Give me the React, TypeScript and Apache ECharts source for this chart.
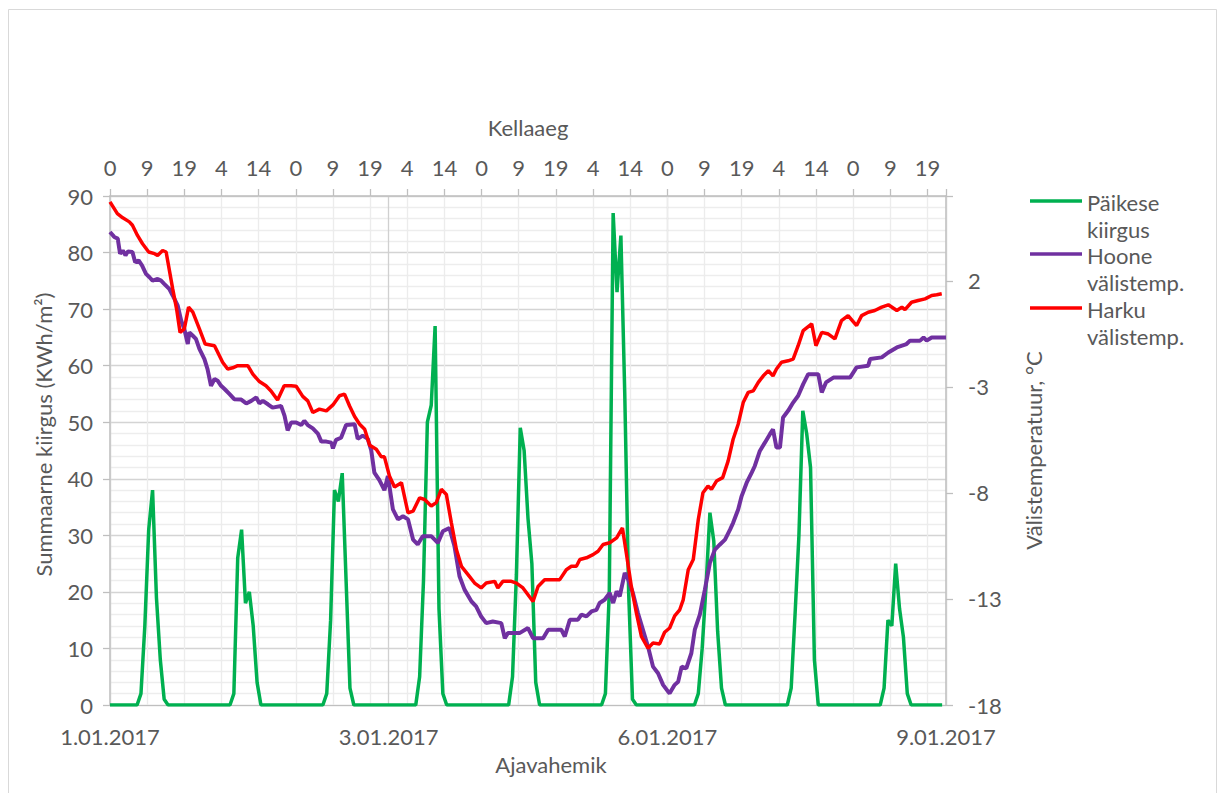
import React, { useEffect, useRef } from 'react';
import * as echarts from 'echarts';

// Top axis (Kellaaeg) tick labels, one every 9.6 hours
const topHourLabels = ['0','9','19','4','14','0','9','19','4','14','0','9','19','4','14','0','9','19','4','14','0','9','19'];
// Bottom axis (Ajavahemik) labels, one every 72 hours
const dateLabels = ['1.01.2017', '3.01.2017', '6.01.2017', '9.01.2017'];

// Päikese kiirgus, hourly values (KWh/m²)
const radiation = [
  0,0,0,0,0,0,0,0,2,14,31,38,19,8,1,0,0,0,0,0,0,0,0,0,
  0,0,0,0,0,0,0,0,2,26,31,18,20,14,4,0,0,0,0,0,0,0,0,0,
  0,0,0,0,0,0,0,0,2,15,38,36,41,22,3,0,0,0,0,0,0,0,0,0,
  0,0,0,0,0,0,0,0,5,22,50,53,67,17,2,0,0,0,0,0,0,0,0,0,
  0,0,0,0,0,0,0,0,5,23,49,45,33,25,4,0,0,0,0,0,0,0,0,0,
  0,0,0,0,0,0,0,0,2,20,87,73,83,55,20,1,0,0,0,0,0,0,0,0,
  0,0,0,0,0,0,0,0,2,10,21,34,29,13,3,0,0,0,0,0,0,0,0,0,
  0,0,0,0,0,0,0,0,3,16,30,52,48,42,8,0,0,0,0,0,0,0,0,0,
  0,0,0,0,0,0,0,0,3,15,14,25,17,12,2,0,0,0,0,0,0,0,0,0,
];

// Hoone välistemp. (°C) at the given hours
const hooneHours = [0,1.1,2.0,2.6,3.3,4.0,4.6,5.8,6.5,7.4,8.3,9.3,10.2,11.0,12.3,13.2,14.0,15.3,16.2,17.5,18.4,19.2,20.1,20.5,21.4,22.2,23.1,24.4,25.2,26.1,27.0,27.8,28.7,29.6,30.9,32.1,33.9,35.2,36.5,37.8,38.6,39.5,40.8,42.0,44.2,45.1,45.9,46.8,48.1,49.4,50.2,51.1,52.4,53.7,54.6,55.9,57.2,57.6,58.4,59.7,61.0,63.2,64.0,65.3,66.6,67.5,68.3,69.6,70.9,71.8,73.1,74.4,75.7,77.0,78.3,79.5,80.8,83.0,84.7,86.0,87.7,89.0,90.3,91.6,93.4,94.6,95.9,97.2,98.9,101.1,102.0,102.8,105.8,108.0,109.3,111.9,113.2,116.6,117.5,118.8,120.9,121.8,123.1,124.4,125.7,126.5,127.8,129.1,130.0,130.9,131.7,133.0,133.9,135.1,136.4,137.7,139.0,140.3,141.6,142.9,144.2,144.6,145.9,146.8,147.7,148.9,150.2,151.1,152.4,153.7,155.0,156.3,157.6,158.9,160.2,161.0,162.3,163.2,164.5,165.8,166.6,167.9,169.2,170.5,171.3,172.2,173.1,173.9,175.2,176.5,177.8,179.1,180.4,183.0,183.9,185.0,186.9,191.2,192.9,195.9,196.4,199.4,201.1,203.3,205.8,206.7,209.3,210.2,211.0,212.3,216];
const hooneTemps = [4.3,4.07,3.99,3.28,3.43,3.2,3.38,3.36,2.88,2.96,2.72,2.33,2.17,2.01,2.09,2.01,1.86,1.62,1.31,0.83,0.12,-0.27,-0.98,-0.43,-0.59,-0.74,-1.21,-1.69,-2.16,-2.95,-2.63,-2.71,-2.95,-3.1,-3.34,-3.58,-3.6,-3.78,-3.66,-3.5,-3.78,-3.66,-3.82,-3.98,-3.9,-4.37,-5.05,-4.68,-4.68,-4.8,-4.6,-4.8,-4.96,-5.2,-5.58,-5.58,-5.63,-5.9,-5.5,-5.4,-4.8,-4.76,-5.45,-5.3,-5.45,-6.0,-7.04,-7.4,-7.87,-7.2,-8.78,-9.25,-9.1,-9.25,-10.2,-10.43,-10.04,-10.04,-10.36,-9.81,-9.65,-10.51,-11.93,-12.56,-13.12,-13.35,-13.83,-14.14,-14.06,-14.14,-14.85,-14.61,-14.61,-14.37,-14.85,-14.85,-14.45,-14.45,-14.77,-13.98,-13.98,-13.74,-13.82,-13.59,-13.51,-13.19,-13.04,-12.72,-13.19,-12.64,-12.88,-11.77,-12.09,-12.72,-13.66,-14.45,-15.24,-16.19,-16.5,-17.05,-17.37,-17.45,-17.05,-16.9,-16.19,-16.27,-15.56,-14.45,-13.74,-12.56,-11.3,-10.67,-10.43,-10.2,-9.73,-9.41,-8.78,-8.15,-7.52,-7.04,-6.73,-6.02,-5.63,-5.23,-5.0,-5.86,-5.86,-4.44,-4.13,-3.74,-3.42,-2.87,-2.4,-2.4,-3.26,-2.79,-2.56,-2.56,-2.08,-2.0,-1.69,-1.61,-1.38,-1.14,-0.98,-0.82,-0.82,-0.67,-0.82,-0.67,-0.67];

// Harku välistemp. (°C) at the given hours
const harkuHours = [0,1.9,3.3,5.0,5.8,7.1,8.4,10.0,11.5,12.3,13.6,14.5,16.2,17.2,18.1,19.2,20.3,21.4,23.1,24.6,27.0,29.1,30.4,31.7,33.0,35.6,36.9,38.6,40.3,41.6,43.3,45.0,46.8,48.1,49.8,51.1,52.4,54.1,55.9,57.6,59.3,60.6,61.9,63.2,64.5,65.8,67.1,68.8,70.1,70.9,72.2,73.5,75.3,77.0,78.3,80.0,81.3,83.0,84.3,85.6,86.9,88.2,89.5,90.8,92.5,94.2,95.9,97.2,99.4,100.2,101.5,103.7,105.0,106.7,108.0,109.3,110.6,112.3,116.2,117.9,119.2,120.5,121.4,123.1,124.8,126.1,127.4,129.1,130.9,132.4,133.4,134.7,136.0,137.3,139.0,140.3,142.0,143.3,144.6,145.9,147.2,148.1,149.4,150.7,152.0,153.2,154.5,155.4,156.7,158.3,159.7,161.0,162.3,163.6,164.9,166.2,167.5,168.8,170.1,171.3,172.2,173.5,175.2,176.5,177.8,179.1,181.3,182.4,183.9,185.6,187.3,189.0,190.7,192.9,194.2,195.9,197.6,199.4,201.1,203.3,204.6,205.4,207.1,208.8,210.6,212.3,213.6,214.9];
const harkuTemps = [5.72,5.17,4.97,4.78,4.62,4.14,3.75,3.36,3.28,3.2,3.43,3.36,1.62,0.68,-0.43,-0.27,0.76,0.52,-0.27,-0.98,-1.06,-1.84,-2.16,-2.1,-2.0,-2.0,-2.4,-2.75,-2.95,-3.19,-3.62,-2.95,-2.95,-2.97,-3.45,-3.66,-4.21,-4.05,-4.13,-3.85,-3.42,-3.34,-3.9,-4.4,-4.76,-5.0,-5.75,-5.94,-6.3,-6.3,-7.2,-7.72,-7.52,-8.94,-8.86,-8.23,-8.31,-8.62,-8.46,-7.83,-8.07,-9.41,-10.67,-11.46,-11.85,-12.25,-12.48,-12.25,-12.17,-12.48,-12.17,-12.17,-12.25,-12.48,-12.8,-13.12,-12.41,-12.09,-12.09,-11.62,-11.46,-11.46,-11.14,-11.06,-10.91,-10.75,-10.43,-10.35,-10.12,-9.65,-10.83,-12.41,-13.66,-14.77,-15.32,-15.08,-15.12,-14.57,-14.37,-13.8,-13.51,-13.04,-11.62,-11.14,-9.25,-7.99,-7.68,-7.83,-7.44,-7.28,-6.5,-5.47,-4.76,-3.74,-3.26,-3.19,-2.79,-2.48,-2.24,-2.48,-2.16,-1.84,-1.77,-1.69,-1.06,-0.35,-0.03,-1.06,-0.43,-0.51,-0.74,0.12,0.36,-0.11,0.36,0.52,0.6,0.76,0.87,0.6,0.76,0.64,0.99,1.07,1.15,1.31,1.34,1.39];

const seriesNames = ['Päikese kiirgus', 'Hoone välistemp.', 'Harku välistemp.'];
const legendLines = [['Päikese', 'kiirgus'], ['Hoone', 'välistemp.'], ['Harku', 'välistemp.']];
const seriesColors = ['#00b050', '#7030a0', '#ff0000'];

const FONT = 'Lato, "Open Sans", sans-serif';
const TXT = '#595959';
const AXIS = '#bfbfbf';

export default function App() {
  const ref = useRef<HTMLDivElement>(null);

  useEffect(() => {
    if (!ref.current) return;
    const chart = echarts.init(ref.current, undefined, { renderer: 'svg' });

    const legendGraphics: any[] = [];
    const legendLineY = [201, 254, 308];
    legendLines.forEach((lines, i) => {
      legendGraphics.push({
        type: 'line',
        shape: { x1: 1030, y1: legendLineY[i], x2: 1082, y2: legendLineY[i] },
        style: { stroke: seriesColors[i], lineWidth: 3.5 },
        silent: true,
      });
      legendGraphics.push({
        type: 'text',
        x: 1087,
        y: legendLineY[i] - 12,
        style: {
          text: lines.join('\n'),
          fontFamily: FONT,
          fontSize: 22,
          lineHeight: 27,
          fill: TXT,
          align: 'left',
          verticalAlign: 'top',
        },
        silent: true,
      });
    });

    const option: any = {
      animation: false,
      backgroundColor: '#ffffff',
      textStyle: { fontFamily: FONT },
      grid: { left: 110, right: 272, top: 196, bottom: 88, containLabel: false },
      xAxis: [
        {
          type: 'value',
          position: 'bottom',
          min: 0,
          max: 216,
          interval: 72,
          name: 'Ajavahemik',
          nameLocation: 'middle',
          nameGap: 48,
          nameTextStyle: { fontSize: 22, color: TXT, fontFamily: FONT, padding: [0, 0, 0, 46] },
          axisLine: { show: true, onZero: false, lineStyle: { color: AXIS, width: 1 } },
          axisTick: { show: false },
          axisLabel: {
            margin: 20,
            fontSize: 22,
            color: TXT,
            fontFamily: FONT,
            showMinLabel: true,
            showMaxLabel: true,
            formatter: (v: number) => {
              const i = Math.round(v / 72);
              return Math.abs(i * 72 - v) < 0.01 && dateLabels[i] ? dateLabels[i] : '';
            },
          },
          splitLine: { show: true, lineStyle: { color: '#d0d0d0', width: 1.3 } },
        },
        {
          type: 'value',
          position: 'top',
          min: 0,
          max: 216,
          interval: 9.6,
          name: 'Kellaaeg',
          nameLocation: 'middle',
          nameGap: 58,
          nameTextStyle: { fontSize: 22, color: TXT, fontFamily: FONT },
          axisLine: { show: true, onZero: false, lineStyle: { color: AXIS, width: 1.5 } },
          axisTick: { show: true, length: 7, lineStyle: { color: AXIS, width: 1.3 } },
          axisLabel: {
            margin: 18,
            fontSize: 22,
            color: TXT,
            fontFamily: FONT,
            showMinLabel: true,
            showMaxLabel: true,
            formatter: (v: number) => {
              const i = Math.round(v / 9.6);
              return Math.abs(i * 9.6 - v) < 0.05 && topHourLabels[i] !== undefined ? topHourLabels[i] : '';
            },
          },
          splitLine: { show: true, lineStyle: { color: '#ececec', width: 1.3 } },
        },
      ],
      yAxis: [
        {
          type: 'value',
          position: 'left',
          min: 0,
          max: 90,
          interval: 10,
          name: 'Summaarne kiirgus (KWh/m²)',
          nameLocation: 'middle',
          nameRotate: 90,
          nameGap: 56,
          nameTextStyle: { fontSize: 22, color: TXT, fontFamily: FONT, padding: [0, 0, 0, 32] },
          axisLine: { show: true, onZero: false, lineStyle: { color: AXIS, width: 1.5 } },
          axisTick: { show: true, length: 7, lineStyle: { color: AXIS, width: 1.3 } },
          axisLabel: { margin: 17, fontSize: 22, color: TXT, fontFamily: FONT },
          splitLine: { show: true, lineStyle: { color: '#d4d4d4', width: 1.3 } },
          minorTick: { show: false, splitNumber: 5 },
          minorSplitLine: { show: true, lineStyle: { color: '#ededed', width: 1.3 } },
        },
        {
          type: 'value',
          position: 'right',
          min: -18,
          max: 6,
          interval: 5,
          name: 'Välistemperatuur, °C',
          nameLocation: 'middle',
          nameRotate: 90,
          nameGap: 76,
          nameTextStyle: { fontSize: 22, color: TXT, fontFamily: FONT },
          axisLine: { show: true, onZero: false, lineStyle: { color: AXIS, width: 1.5 } },
          axisTick: { show: true, length: 7, lineStyle: { color: AXIS, width: 1.3 } },
          axisLabel: {
            margin: 22,
            fontSize: 22,
            color: TXT,
            fontFamily: FONT,
            formatter: (v: number) => (v > 2.5 ? '' : String(v)),
          },
          splitLine: { show: false },
        },
      ],
      graphic: [
        {
          type: 'rect',
          shape: { x: 8.5, y: 9.5, width: 1208, height: 790 },
          style: { fill: 'none', stroke: '#d9d9d9', lineWidth: 1 },
          silent: true,
          z: -10,
        },
        ...legendGraphics,
      ],
      series: [
        {
          name: seriesNames[0],
          type: 'line',
          xAxisIndex: 0,
          yAxisIndex: 0,
          data: radiation.map((v, i) => [i, v]),
          showSymbol: false,
          symbol: 'none',
          lineStyle: { color: seriesColors[0], width: 3.5 },
          itemStyle: { color: seriesColors[0] },
          z: 3,
        },
        {
          name: seriesNames[1],
          type: 'line',
          xAxisIndex: 0,
          yAxisIndex: 1,
          data: hooneHours.map((h, i) => [h, hooneTemps[i]]),
          showSymbol: false,
          symbol: 'none',
          lineStyle: { color: seriesColors[1], width: 4 },
          itemStyle: { color: seriesColors[1] },
          z: 4,
        },
        {
          name: seriesNames[2],
          type: 'line',
          xAxisIndex: 0,
          yAxisIndex: 1,
          data: harkuHours.map((h, i) => [h, harkuTemps[i]]),
          showSymbol: false,
          symbol: 'none',
          lineStyle: { color: seriesColors[2], width: 3.5 },
          itemStyle: { color: seriesColors[2] },
          z: 5,
        },
      ],
    };

    chart.setOption(option);
    return () => chart.dispose();
  }, []);

  return (
    <div
      ref={ref}
      style={{ position: 'fixed', left: 0, top: 0, width: 1218, height: 793, background: '#fff' }}
    />
  );
}
